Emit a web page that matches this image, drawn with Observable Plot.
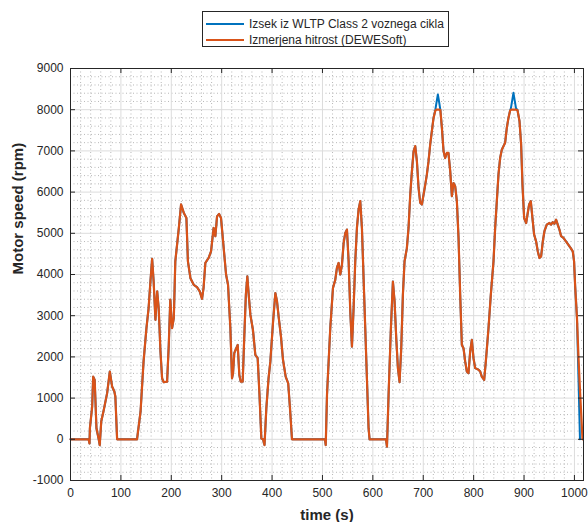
<!DOCTYPE html>
<html>
<head>
<meta charset="utf-8">
<script src="https://cdn.jsdelivr.net/npm/d3@7"></script>
<script src="https://cdn.jsdelivr.net/npm/@observablehq/plot@0.6"></script>
<style>
  html, body { margin: 0; padding: 0; background: #fff; }
  #wrap { position: relative; width: 588px; height: 522px; font-family: "Liberation Sans", Arial, Helvetica, sans-serif; color: #262626; }
  #legendArea { position: relative; width: 588px; height: 50px; }
  #legend { position: absolute; left: 202px; top: 11px; width: 247px; height: 36px; border: 1px solid #262626; box-sizing: border-box; background: #fff; }
  .row { position: absolute; left: 0; height: 16px; display: flex; align-items: center; font-size: 12px; white-space: nowrap; }
  .swatch { width: 38px; height: 0; margin-left: 3px; margin-right: 5px; }
</style>
</head>
<body>
<div id="wrap">
  <div id="legendArea"><div id="legend"></div></div>
  <div id="chart"></div>
</div>
<script>
// ---- Data ----
const seriesNames = ["Izsek iz WLTP Class 2 voznega cikla", "Izmerjena hitrost (DEWESoft)"];
const seriesColors = ["#0072BD", "#D95319"];

const timeS = [
  0, 36, 37.7, 38.5, 43, 45, 48, 51.5, 56, 58, 61, 66, 72.7, 78, 82.6, 87, 89, 92.5,
  132, 139, 145, 150.7, 155, 158.6, 162, 165, 168.5, 172, 175, 178.5, 181.8, 185, 191.7,
  195, 198, 201.6, 205, 208, 211.5, 215, 219.4, 225, 230, 233, 238, 244.5, 251, 256.4,
  261, 264, 267.6, 274, 278.9, 284, 287.5, 290.8, 294.8, 298.7, 304, 308.7, 312.6, 317.2,
  320.5, 322.5, 325, 329, 331.8, 335, 337.7, 341.7, 345, 348, 350.9, 353.6, 357, 362,
  366.8, 371.4, 375, 378.7, 382, 385, 388.6, 393, 396.6, 402, 406.5, 409.8, 413, 417.6,
  421.7, 427, 432, 436, 439.5,
  505, 506.5, 509, 515.5, 520.8, 525.4, 528.7, 532, 535.4, 538.7, 542, 545.3, 548.6,
  551.9, 555.2, 558.5, 561.8, 565.1, 568.4, 571.7, 575, 578.3, 581.6, 584.9, 588.2,
  591.5, 593.5,
  626, 628, 631.2, 635.8, 639.8, 643.1, 646.4, 649.7, 653, 656.3, 659.6, 662.9, 667.5,
  670.8, 674.2, 677.5, 680.8, 684.1, 687.4, 690.7, 694, 697.3, 700.6, 704, 707.2, 710.5,
  713.8, 717.1, 720.4, 724, 726, 729, 732, 734, 737, 740.3, 743.5, 746.8, 750, 753.5,
  756.8, 760, 763.4, 766.7, 770, 773.3, 776.6, 779.9, 783.2, 786.5, 789.8, 793.1, 796.4,
  799.7, 803, 809.6, 813, 816.2, 820.9, 824.2, 829.5, 834.1, 839.4, 842.7, 846, 849.3,
  852.6, 855.9, 859.2, 862.5, 865.8, 869.1, 872.4, 874, 879, 884, 887, 891, 894.2,
  896.9, 900.2, 904.2, 906.8, 910.1, 913.4, 916.7, 920, 924, 927.3, 930.6, 933.9, 937.2,
  940.5, 945.1, 950.4, 953.7, 957, 960.3, 963.6, 966.9, 970.2, 973.6, 978.2, 983.5,
  988.1, 992.7, 996.7, 999.3, 1001.5, 1005, 1008, 1011, 1016
];

const measuredRpm = [
  0, 0, -100, 270, 790, 1520, 1440, 270, 0, -140, 430, 710, 1120, 1645, 1280, 1160, 1040, 0,
  0, 670, 1890, 2700, 3185, 3830, 4380, 3830, 2900, 3590, 3185, 2130, 1480, 1385, 1400,
  2290, 3390, 2700, 2940, 4320, 4725, 5130, 5700, 5490, 5370, 4320, 3910, 3750, 3695, 3590,
  3410, 3670, 4280, 4400, 4560, 5130, 4930, 5410, 5470, 5370, 4640, 4000, 3750, 2700,
  1480, 1600, 2090, 2210, 2290, 1560, 1400, 1400, 2540, 3510, 3955, 3510, 3020, 2660,
  2050, 1970, 1080, 20, 0, -140, 750, 1480, 1890, 2860, 3550, 3350, 2980, 2500,
  1930, 1520, 1360, 670, 0,
  0, -140, 1078, 2700, 3670, 3870, 4160, 4280, 4000, 4240, 4765, 5010, 5090,
  4320, 3100, 2250, 3185, 4320, 5130, 5580, 5780, 5130, 3910, 2700, 1480,
  270, 0,
  0, -180, 1080, 2700, 3830, 3350, 2455, 1730, 1385, 2210, 3510, 4320, 4640,
  5130, 5940, 6510, 6990, 7115, 6750, 6100, 5740, 5700, 5940, 6180, 6430, 6750,
  7160, 7480, 7800, 7980, 8000, 8000, 8000, 7990, 7560, 6990, 6830, 6950, 6950, 6510,
  5900, 6220, 6140, 5780, 4890, 3510, 2290, 2210, 1890, 1645, 1605, 2130, 2415,
  1970, 1730, 1690, 1645, 1520, 1440, 1890, 2700, 3510, 4320, 5130, 5780, 6430,
  6830, 7030, 7115, 7200, 7560, 7800, 7980, 8000, 8000, 8000, 7990, 7720, 7160,
  6180, 5370, 5250, 5450, 5700, 5780, 5370, 4970, 4800, 4560, 4400, 4440, 4800,
  5050, 5210, 5250, 5210, 5270, 5230, 5330, 5210, 5090, 4930, 4890, 4800,
  4720, 4640, 4560, 4320, 3700, 2960, 2000, 1200, 0
];

const wltpRpm = [
  0, 0, -100, 270, 790, 1520, 1440, 270, 0, -140, 430, 710, 1120, 1645, 1280, 1160, 1040, 0,
  0, 670, 1890, 2700, 3185, 3830, 4380, 3830, 2900, 3590, 3185, 2130, 1480, 1385, 1400,
  2290, 3390, 2700, 2940, 4320, 4725, 5130, 5700, 5490, 5370, 4320, 3910, 3750, 3695, 3590,
  3410, 3670, 4280, 4400, 4560, 5130, 4930, 5410, 5470, 5370, 4640, 4000, 3750, 2700,
  1480, 1600, 2090, 2210, 2290, 1560, 1400, 1400, 2540, 3510, 3955, 3510, 3020, 2660,
  2050, 1970, 1080, 20, 0, -140, 750, 1480, 1890, 2860, 3550, 3350, 2980, 2500,
  1930, 1520, 1360, 670, 0,
  0, -140, 1078, 2700, 3670, 3870, 4160, 4280, 4000, 4240, 4765, 5010, 5090,
  4320, 3100, 2250, 3185, 4320, 5130, 5580, 5780, 5130, 3910, 2700, 1480,
  270, 0,
  0, -180, 1080, 2700, 3830, 3350, 2455, 1730, 1385, 2210, 3510, 4320, 4640,
  5130, 5940, 6510, 6990, 7115, 6750, 6100, 5740, 5700, 5940, 6180, 6430, 6750,
  7160, 7480, 7800, 8000, 8150, 8370, 8150, 7990, 7560, 6990, 6830, 6950, 6950, 6510,
  5900, 6220, 6140, 5780, 4890, 3510, 2290, 2210, 1890, 1645, 1605, 2130, 2415,
  1970, 1730, 1690, 1645, 1520, 1440, 1890, 2700, 3510, 4320, 5130, 5780, 6430,
  6830, 7030, 7115, 7200, 7560, 7800, 7980, 8040, 8410, 8040, 7990, 7720, 7160,
  6180, 5370, 5250, 5450, 5700, 5780, 5370, 4970, 4800, 4560, 4400, 4440, 4800,
  5050, 5210, 5250, 5210, 5270, 5230, 5330, 5210, 5090, 4930, 4890, 4800,
  4720, 4640, 4560, 4320, 3700, 2960, 1500, 0, null
];

const xDomain = [0, 1018];
const yDomain = [-1000, 9000];
const xTicks = [0, 100, 200, 300, 400, 500, 600, 700, 800, 900, 1000];
const yTicks = [-1000, 0, 1000, 2000, 3000, 4000, 5000, 6000, 7000, 8000, 9000];
const xMinorStep = 20;
const yMinorStep = 200;
const xLabel = "time (s)";
const yLabel = "Motor speed (rpm)";

// ---- Build ----
const rows = timeS.map((t, i) => ({t, wltp: wltpRpm[i], meas: measuredRpm[i]}));
const xMinor = d3.range(xDomain[0], xDomain[1], xMinorStep).filter(v => v % 100 !== 0);
const yMinor = d3.range(yDomain[0], yDomain[1], yMinorStep).filter(v => v % 1000 !== 0);

const W = 588, H = 472, mT = 18, mL = 70, mR = 5, mB = 42;
const innerW = W - mL - mR, innerH = H - mT - mB;
const tickLen = 5;
const ink = "#262626";

const chart = Plot.plot({
  width: W, height: H,
  marginTop: mT, marginLeft: mL, marginRight: mR, marginBottom: mB,
  style: {fontFamily: "'Liberation Sans', Arial, Helvetica, sans-serif", fontSize: "12px", color: ink, background: "#fff"},
  x: {domain: xDomain, ticks: xTicks, tickFormat: d => String(d)},
  y: {domain: yDomain, ticks: yTicks, tickFormat: d => String(d)},
  marks: [
    Plot.ruleX(xMinor, {stroke: "#b8b8b8", strokeWidth: 1, strokeDasharray: "1,2.5"}),
    Plot.ruleY(yMinor, {stroke: "#b8b8b8", strokeWidth: 1, strokeDasharray: "1,2.5"}),
    Plot.ruleX(xTicks, {stroke: "#dcdcdc", strokeWidth: 1}),
    Plot.ruleY(yTicks, {stroke: "#dcdcdc", strokeWidth: 1}),
    Plot.line(rows, {x: "t", y: "wltp", stroke: seriesColors[0], strokeWidth: 2, strokeLinejoin: "round"}),
    Plot.line(rows, {x: "t", y: "meas", stroke: seriesColors[1], strokeWidth: 2.2, strokeLinejoin: "round"}),
    Plot.frame({stroke: ink, strokeWidth: 1}),
    Plot.ruleX(xTicks, {stroke: ink, insetTop: innerH - tickLen}),
    Plot.ruleX(xTicks, {stroke: ink, insetBottom: innerH - tickLen}),
    Plot.ruleY(yTicks, {stroke: ink, insetRight: innerW - tickLen}),
    Plot.ruleY(yTicks, {stroke: ink, insetLeft: innerW - tickLen}),
    Plot.axisX({ticks: xTicks, tickSize: 0, tickPadding: 8, label: null, tickFormat: d => String(d), fill: ink}),
    Plot.axisY({ticks: yTicks, tickSize: 0, tickPadding: 7, label: null, tickFormat: d => String(d), fill: ink}),
    Plot.text([xLabel], {text: d => d, frameAnchor: "bottom", dy: 35, fontWeight: "bold", fontSize: 15, fill: ink, lineAnchor: "middle"}),
    Plot.text([yLabel], {text: d => d, frameAnchor: "left", dx: -52, rotate: -90, fontWeight: "bold", fontSize: 15, fill: ink, lineAnchor: "middle"})
  ]
});
document.getElementById("chart").appendChild(chart);

// ---- Legend ----
const legend = document.getElementById("legend");
seriesNames.forEach((name, i) => {
  const row = document.createElement("div");
  row.className = "row";
  row.style.top = (i === 0 ? 3.5 : 19.5) + "px";
  const sw = document.createElement("div");
  sw.className = "swatch";
  sw.style.borderTop = "2px solid " + seriesColors[i];
  const tx = document.createElement("span");
  tx.textContent = name;
  row.appendChild(sw);
  row.appendChild(tx);
  legend.appendChild(row);
});
</script>
</body>
</html>
